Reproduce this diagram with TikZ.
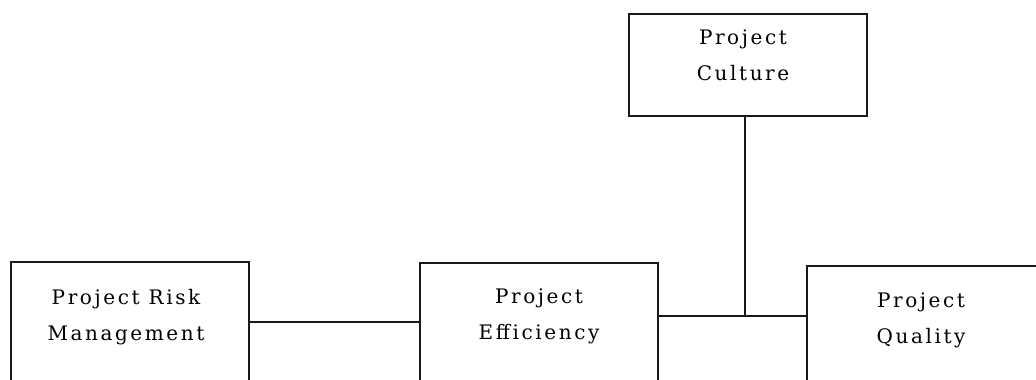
\documentclass[tikz,border=0pt]{standalone}
\usepackage{fontspec}
\setmainfont{DejaVu Serif}[LetterSpace=13]
\usetikzlibrary{calc}
\tikzset{
  box/.style={draw=black!90, line width=1.5pt, minimum width=#1, minimum height=160pt, anchor=north west, inner sep=0pt},
  lbl/.style={align=center, font=\fontsize{20pt}{36pt}\selectfont, inner sep=0pt},
  conn/.style={draw=black!90, line width=1.5pt}
}
\begin{document}
\begin{tikzpicture}[x=1pt,y=-1pt]
\useasboundingbox (0,0) rectangle (1036,380);
\clip (0,0) rectangle (1036,380);
\fill[white] (0,0) rectangle (1036,380);
% boxes
\node[box=238pt] (risk) at (10,261) {};
\node[box=238pt] (eff) at (419,262) {};
\node[box=260pt] (qual) at (806,265) {};
\node[draw=black!90, line width=1.5pt, minimum width=238pt, minimum height=102pt, anchor=north west, inner sep=0pt] (cult) at (628,13) {};
% labels
\node[lbl] (riskt) at (126,317) {Project Risk\\Management};
\node[lbl] (efft) at (539,316) {Project\\Efficiency};
\node[lbl] (qualt) at (921,320) {Project\\Quality};
\node[lbl] (cultt) at (743,55) {Project\\Culture};
% connectors
\coordinate (a) at ($(risk.north east)+(0,61)$);
\coordinate (b) at ($(eff.north east)+(0,54)$);
\draw[conn] (a) -- (a -| eff.west);
\draw[conn] (b) -- (b -| qual.west);
\coordinate (j) at ($(cult.south)+(-3,0)$);
\draw[conn] (j) -- (j |- b);
\end{tikzpicture}
\end{document}
